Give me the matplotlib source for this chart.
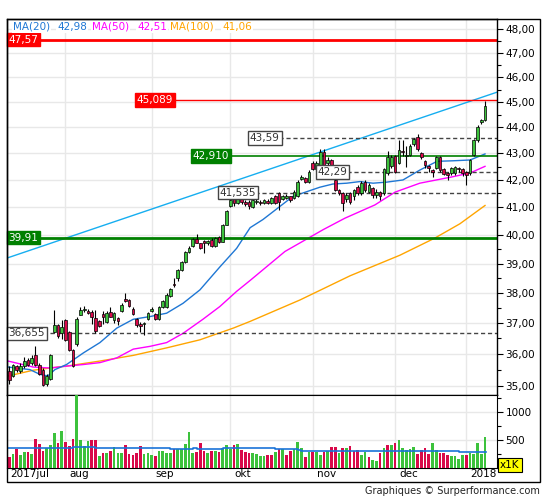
import matplotlib
matplotlib.use('Agg')
import matplotlib.pyplot as plt
from matplotlib.ticker import FixedLocator, FuncFormatter, NullFormatter
from matplotlib.patches import Rectangle

# cours journaliers (11 juil. 2017 -> 9 janv. 2018)
opens = [35.45, 35.30, 35.60, 35.45, 35.60, 35.80, 35.70, 35.95, 35.66, 35.50,
         35.05, 35.22, 36.71, 36.93, 36.68, 37.10, 36.71, 36.13, 36.30, 37.27,
         37.42, 37.40, 37.35, 37.16, 37.05, 37.30, 37.02, 37.35, 37.10, 37.16,
         37.40, 37.78, 37.76, 37.46, 37.12, 36.98, 36.95, 37.12, 37.40, 37.30,
         37.12, 37.54, 37.54, 37.88, 38.30, 38.50, 38.78, 39.06, 39.41, 39.61,
         39.86, 39.71, 39.79, 39.71, 39.83, 39.61, 39.92, 39.76, 40.37, 41.03,
         41.28, 41.15, 41.30, 41.17, 41.20, 41.02, 41.17, 41.20, 41.14, 41.24,
         41.14, 41.39, 41.51, 41.30, 41.33, 41.39, 41.35, 41.39, 42.03, 42.06,
         41.94, 42.65, 42.40, 42.55, 43.06, 42.62, 42.75, 42.00, 41.62, 41.50,
         41.30, 41.51, 41.39, 41.73, 41.51, 41.94, 41.57, 41.70, 41.45, 41.55,
         41.50, 42.27, 42.53, 42.90, 42.65, 43.10, 42.90, 42.94, 43.35, 43.63,
         43.00, 42.70, 42.52, 42.37, 42.45, 42.85, 42.40, 42.25, 42.25, 42.25,
         42.45, 42.40, 42.30, 42.25, 42.95, 43.50, 44.22, 44.30]
highs = [35.60, 35.69, 35.66, 35.70, 35.90, 35.88, 35.95, 36.25, 35.72, 35.55,
         35.35, 36.00, 37.43, 36.96, 37.10, 37.13, 36.75, 36.16, 37.20, 37.54,
         37.56, 37.45, 37.41, 37.43, 37.10, 37.38, 37.38, 37.54, 37.35, 37.21,
         37.65, 38.01, 37.80, 37.52, 37.15, 37.02, 37.02, 37.36, 37.54, 37.32,
         37.57, 37.75, 37.98, 38.18, 38.50, 38.80, 39.08, 39.43, 39.61, 39.90,
         40.04, 39.73, 39.83, 39.83, 39.88, 39.92, 39.96, 40.40, 40.90, 41.30,
         41.35, 41.35, 41.33, 41.25, 41.26, 41.30, 41.28, 41.26, 41.30, 41.28,
         41.36, 41.45, 41.55, 41.45, 41.48, 41.42, 41.62, 41.98, 42.18, 42.12,
         42.36, 42.72, 42.70, 43.15, 43.15, 42.85, 42.78, 42.10, 41.66, 41.55,
         41.50, 41.55, 41.68, 41.80, 41.95, 42.00, 41.88, 41.75, 41.65, 41.60,
         42.45, 43.10, 42.95, 42.95, 43.50, 43.50, 43.30, 43.35, 43.60, 43.75,
         43.05, 42.75, 42.55, 42.40, 42.90, 42.90, 42.45, 42.30, 42.50, 42.52,
         42.50, 42.45, 42.35, 42.80, 43.55, 44.10, 44.35, 45.05]
lows = [35.05, 35.27, 35.42, 35.40, 35.56, 35.62, 35.66, 35.62, 35.32, 34.98,
        35.00, 35.18, 36.66, 36.50, 36.48, 36.42, 36.10, 35.58, 36.25, 37.25,
        37.35, 37.30, 36.96, 36.66, 36.85, 36.95, 36.99, 37.19, 36.99, 36.93,
        37.37, 37.70, 37.52, 37.27, 36.85, 36.70, 36.62, 37.10, 37.37, 37.10,
        37.10, 37.50, 37.50, 37.85, 38.21, 38.40, 38.75, 39.02, 39.35, 39.58,
        39.71, 39.50, 39.35, 39.66, 39.58, 39.58, 39.72, 39.74, 40.34, 41.00,
        41.05, 41.10, 41.12, 41.05, 40.95, 40.98, 41.12, 41.08, 41.10, 41.10,
        41.10, 41.10, 40.88, 41.25, 41.28, 41.20, 41.30, 41.36, 41.98, 41.88,
        41.90, 42.36, 42.35, 42.50, 42.48, 42.55, 42.48, 41.60, 41.45, 40.85,
        41.20, 41.10, 41.26, 41.45, 41.45, 41.55, 41.50, 41.35, 41.35, 41.25,
        41.45, 42.20, 42.45, 42.25, 42.60, 42.90, 42.50, 42.90, 43.30, 43.10,
        42.80, 42.45, 42.30, 42.10, 42.40, 42.30, 42.18, 42.00, 42.20, 42.20,
        42.30, 42.15, 41.80, 42.20, 42.90, 43.45, 44.15, 44.25]
closes = [35.18, 35.66, 35.50, 35.60, 35.78, 35.66, 35.88, 35.66, 35.36, 35.02,
          35.30, 35.96, 36.93, 36.56, 36.87, 36.45, 36.13, 35.61, 37.13, 37.43,
          37.46, 37.32, 37.21, 36.73, 36.89, 37.20, 37.32, 37.21, 37.32, 37.05,
          37.60, 37.74, 37.57, 37.30, 36.93, 36.90, 37.00, 37.34, 37.46, 37.14,
          37.54, 37.71, 37.93, 38.13, 38.25, 38.78, 39.06, 39.41, 39.53, 39.86,
          39.73, 39.55, 39.73, 39.79, 39.61, 39.88, 39.76, 40.36, 40.87, 41.25,
          41.15, 41.30, 41.18, 41.10, 41.05, 41.26, 41.22, 41.15, 41.26, 41.14,
          41.33, 41.14, 41.17, 41.39, 41.42, 41.26, 41.57, 41.94, 42.10, 41.93,
          42.31, 42.40, 42.62, 43.06, 42.56, 42.75, 42.56, 41.63, 41.50, 41.14,
          41.45, 41.20, 41.63, 41.51, 41.88, 41.63, 41.82, 41.45, 41.55, 41.40,
          42.40, 42.86, 42.88, 42.30, 43.13, 43.05, 42.95, 43.30, 43.54, 43.18,
          42.86, 42.56, 42.45, 42.28, 42.85, 42.37, 42.22, 42.20, 42.45, 42.48,
          42.40, 42.25, 42.20, 42.75, 43.50, 44.00, 44.30, 44.86]

# volumes (milliers)
volumes = [197, 247, 340, 228, 284, 284, 247, 524, 432, 302, 345, 413, 617, 450, 654, 469,
           395, 524, 1400, 506, 395, 487, 506, 506, 210, 265, 265, 302, 376, 265, 265, 413,
           247, 228, 265, 395, 247, 265, 228, 210, 302, 302, 265, 265, 340, 340, 340, 432,
           635, 265, 284, 450, 302, 265, 302, 302, 284, 358, 413, 340, 413, 432, 321, 284,
           265, 265, 247, 210, 210, 228, 228, 284, 340, 340, 228, 302, 340, 469, 358, 191,
           284, 284, 284, 228, 284, 302, 376, 376, 265, 358, 358, 395, 302, 321, 228, 284,
           191, 136, 117, 265, 358, 413, 413, 450, 506, 358, 321, 340, 376, 247, 321, 358,
           247, 450, 321, 265, 265, 228, 210, 210, 154, 228, 228, 265, 247, 450, 247, 561]
vol_updown = ("rgrggrgrrrgggrgrrrggggrrgrgrgggrrrrrgggrggggrgggggrrrgrgrgggrgrrrggggr"
              "rgrgrrgggrgrggrgrrgrgrrrggrggrgrgrgggggrrrrggrrrggggrggggg")

# moyenne mobile des volumes (paliers)
volma_x = [-0.3, 17, 23, 43, 49, 50, 57, 71, 77, 78, 120, 127.3]
volma_y = [352, 368, 352, 333, 350, 333, 352, 333, 310, 296, 278, 278]

# moyennes mobiles
ma20_x = [-0.3, 5.5, 8.2, 10.3, 12.2, 15.3, 19.8, 24.2, 28.7, 33.1, 37.6, 42.0, 46.4,
          50.9, 56.2, 60.7, 64.3, 67.7, 75.7, 79.5, 82.9, 86.4, 90.1, 93.6, 97.1,
          100.8, 105.1, 109.6, 114.2, 118.4, 123.0, 127.0]
ma20_y = [35.58, 35.50, 35.35, 35.30, 35.50, 35.66, 36.03, 36.36, 36.83, 37.12, 37.21,
          37.32, 37.65, 38.10, 38.88, 39.53, 40.26, 40.55, 41.39, 41.57, 41.73, 41.85,
          41.88, 41.94, 41.88, 41.92, 42.00, 42.37, 42.70, 42.72, 42.75, 42.98]
ma50_x = [-0.3, 6.4, 10.9, 15.3, 19.8, 24.2, 28.7, 33.1, 37.6, 42.0, 46.4, 51.7, 56.2,
          60.7, 64.3, 73.6, 83.8, 89.6, 97.6, 103.0, 109.6, 118.4, 123.0, 127.0]
ma50_y = [35.77, 35.58, 35.55, 35.61, 35.66, 35.72, 35.87, 36.15, 36.24, 36.36, 36.66,
          37.12, 37.54, 38.05, 38.42, 39.42, 40.19, 40.60, 41.08, 41.55, 41.88, 42.12,
          42.26, 42.51]
ma100_x = [-0.3, 6.4, 10.9, 15.3, 24.2, 33.1, 42.0, 50.9, 59.8, 64.3, 77.6, 91.0,
           104.3, 113.6, 120.3, 127.0]
ma100_y = [35.30, 35.48, 35.55, 35.61, 35.77, 35.95, 36.19, 36.45, 36.83, 37.05, 37.76,
           38.58, 39.29, 39.89, 40.40, 41.06]

# oblique (canal haussier)
trend_x = [-0.6, 130.2]
trend_y = [39.19, 45.40]

month_idx = [15, 38, 59, 81, 103, 122]
month_lbl = ['aug', 'sep', 'okt', 'nov', 'dec', '2018']

W, H = 545, 500
fig = plt.figure(figsize=(W / 100, H / 100), dpi=100)
ax = fig.add_axes([7 / W, 1 - 395.3 / H, 490 / W, 376 / H])
axv = fig.add_axes([7 / W, 1 - 467.5 / H, 490 / W, 72.2 / H], sharex=ax)

GREEN = '#3cc23c'
RED = '#d9094a'
n = len(closes)
idx = list(range(n))

# --- prix ---
ax.set_yscale('log')
ax.set_ylim(34.70, 48.43)
ax.set_xlim(-0.6, 130.2)
ax.yaxis.set_major_locator(FixedLocator(range(35, 49)))
ax.yaxis.set_minor_locator(FixedLocator([v + 0.5 for v in range(34, 49)]))
ax.yaxis.set_major_formatter(FuncFormatter(lambda v, p: f"{v:.2f}".replace('.', ',')))
ax.yaxis.set_minor_formatter(NullFormatter())
ax.yaxis.tick_right()
ax.tick_params(axis='y', which='major', direction='out', length=4.5, width=0.8,
               labelsize=7.5, pad=1.5)
ax.tick_params(axis='y', which='minor', direction='out', length=3, width=0.8)
ax.set_xticks(month_idx)
ax.tick_params(axis='x', length=0, labelbottom=False)
ax.grid(True, which='major', color='#e8e8e8', lw=1)
ax.set_axisbelow(True)

ax.plot(trend_x, trend_y, color='#16aef0', lw=1, zorder=2)
ax.plot(ma100_x, ma100_y, color='#ffa500', lw=1, zorder=2)
ax.plot(ma50_x, ma50_y, color='#ff00ff', lw=1, zorder=2)
ax.plot(ma20_x, ma20_y, color='#1f77d4', lw=1, zorder=2)

# lignes horizontales + étiquettes
ax.axhline(47.57, color='#ff0000', lw=2, zorder=2)
ax.axhline(39.91, color='#008000', lw=2, zorder=2)
ax.hlines(45.089, 43.6, 130.2, color='#ff0000', lw=1, zorder=2)
ax.hlines(42.910, 58.4, 130.2, color='#008000', lw=1.2, zorder=2)
for lvl, x0 in [(43.59, 72.1), (42.29, 90.1), (41.535, 65.6), (36.655, 9.1)]:
    ax.hlines(lvl, x0, 130.2, color='#444444', lw=1, linestyles=(0, (3, 2)), zorder=2)

def tag(x, y, s, fc, ec, tc):
    ax.text(x, y, s, fontsize=7.5, color=tc, ha='left', va='center', zorder=6,
            bbox=dict(boxstyle='square,pad=0.18', fc=fc, ec=ec, lw=1))

tag(-0.2, 47.57, '47,57', '#ff0000', '#ff0000', 'white')
tag(-0.2, 39.91, '39,91', '#008000', '#008000', 'white')
tag(34.0, 45.089, '45,089', '#ff0000', '#ff0000', 'white')
tag(49.0, 42.910, '42,910', '#008000', '#008000', 'white')
tag(64.2, 43.59, '43,59', 'white', '#444444', '#333333')
tag(82.3, 42.29, '42,29', 'white', '#444444', '#333333')
tag(56.1, 41.535, '41,535', 'white', '#444444', '#333333')
tag(-0.2, 36.655, '36,655', 'white', '#444444', '#333333')

# chandeliers
ax.vlines(idx, lows, highs, color='black', lw=0.8, zorder=3)
bottoms = [min(o, c) for o, c in zip(opens, closes)]
heights = [max(abs(c - o), 0.02) for o, c in zip(opens, closes)]
colors = [GREEN if c >= o else RED for o, c in zip(opens, closes)]
ax.bar(idx, heights, bottom=bottoms, width=0.72, color=colors, edgecolor='black',
       lw=0.5, zorder=4)

for s in ax.spines.values():
    s.set_linewidth(1)

# --- volumes ---
axv.bar(idx, volumes, width=0.72, color=[GREEN if c == 'g' else RED for c in vol_updown],
        zorder=3)
axv.step(volma_x, volma_y, where='post', color='#1a73d8', lw=1.2, zorder=4)
axv.set_ylim(0, 1307)
axv.yaxis.tick_right()
axv.yaxis.set_major_locator(FixedLocator([500, 1000]))
axv.yaxis.set_minor_locator(FixedLocator([250, 750, 1250]))
axv.yaxis.set_minor_formatter(NullFormatter())
axv.tick_params(axis='y', which='major', direction='out', length=4.5, width=0.8,
                labelsize=7.5, pad=1.5)
axv.tick_params(axis='y', which='minor', direction='out', length=3, width=0.8)
axv.tick_params(axis='x', length=0, labelbottom=False)
axv.grid(True, which='major', color='#e8e8e8', lw=1)
axv.set_axisbelow(True)

axv.annotate('2017jul', xy=(-0.6, 0), xycoords=('data', 'axes fraction'),
             xytext=(2, -1), textcoords='offset points', ha='left', va='top', fontsize=7.5)
for m, lbl in zip(month_idx, month_lbl):
    axv.annotate(lbl, xy=(m, 0), xycoords=('data', 'axes fraction'), xytext=(3, -1),
                 textcoords='offset points', ha='left', va='top', fontsize=7.5)

fig.text(500 / W, 1 - 465 / H, 'x1K', fontsize=7.5, ha='left', va='center',
         bbox=dict(boxstyle='square,pad=0.2', fc='#ffff00', ec='black', lw=0.8))

# légende des moyennes
for px, s, col in [(13, 'MA(20)', '#1f77d4'), (57, '42,98', '#1f77d4'),
                   (92, 'MA(50)', '#ff00ff'), (137, '42,51', '#ff00ff'),
                   (170, 'MA(100)', '#ffa500'), (222, '41,06', '#ffa500')]:
    fig.text(px / W, 1 - 26.7 / H, s, color=col, fontsize=7.5, ha='left', va='center',
             bbox=dict(boxstyle='square,pad=0.1', fc='white', ec='none'))

# cadre extérieur
fig.add_artist(Rectangle((7 / W, 1 - 482 / H), 533 / W, (482 - 19.3) / H,
                         transform=fig.transFigure, fill=False, ec='black', lw=1))
fig.text(540 / W, 1 - 491 / H, 'Graphiques © Surperformance.com', fontsize=7,
         ha='right', va='center', color='#222222')

fig.savefig('out.png', dpi=100)
